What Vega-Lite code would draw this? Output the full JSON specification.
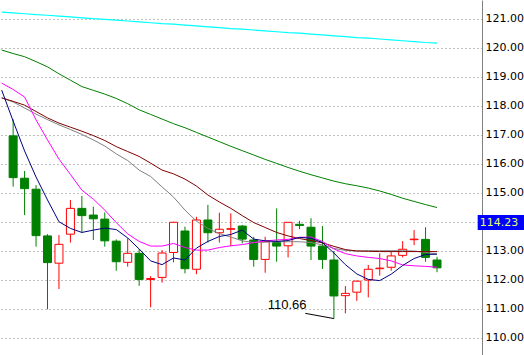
{
  "$schema": "https://vega.github.io/schema/vega-lite/v6.json",
  "width": 482,
  "height": 355,
  "autosize": {"type": "none"},
  "padding": {"left": 0, "top": 0, "right": 42, "bottom": 0},
  "background": "#ffffff",
  "view": {"stroke": null},
  "config": {
    "axisY": {"grid": true, "gridDash": [1, 3], "gridColor": "#808080", "gridOpacity": 1, "gridWidth": 1, "ticks": false, "domain": true, "domainColor": "#808080", "domainWidth": 1, "labelFont": "DejaVu Sans", "labelFontSize": 11, "labelColor": "#000000", "labelPadding": 3, "labelOverlap": false, "labelFlush": false, "labelBound": false}
  },
  "datasets": {
    "candles": [
      {"i": 1, "o": 116.96, "h": 117.53, "l": 115.21, "c": 115.52},
      {"i": 2, "o": 115.50, "h": 115.75, "l": 114.23, "c": 115.14},
      {"i": 3, "o": 115.12, "h": 115.26, "l": 113.14, "c": 113.52},
      {"i": 4, "o": 113.51, "h": 113.57, "l": 110.98, "c": 112.59},
      {"i": 5, "o": 112.57, "h": 113.54, "l": 111.68, "c": 113.22},
      {"i": 6, "o": 113.57, "h": 114.75, "l": 113.28, "c": 114.46},
      {"i": 7, "o": 114.46, "h": 114.89, "l": 113.62, "c": 114.21},
      {"i": 8, "o": 114.23, "h": 114.52, "l": 113.37, "c": 114.10},
      {"i": 9, "o": 114.09, "h": 114.32, "l": 113.14, "c": 113.34},
      {"i": 10, "o": 113.33, "h": 113.39, "l": 112.31, "c": 112.62},
      {"i": 11, "o": 112.60, "h": 113.43, "l": 112.45, "c": 112.91},
      {"i": 12, "o": 112.91, "h": 113.05, "l": 111.79, "c": 112.01},
      {"i": 13, "o": 112.01, "h": 112.12, "l": 111.05, "c": 112.04},
      {"i": 14, "o": 112.08, "h": 113.02, "l": 111.90, "c": 112.92},
      {"i": 15, "o": 112.94, "h": 114.00, "l": 112.60, "c": 113.98},
      {"i": 16, "o": 113.68, "h": 113.83, "l": 112.22, "c": 112.38},
      {"i": 17, "o": 112.36, "h": 114.17, "l": 112.19, "c": 114.06},
      {"i": 18, "o": 114.06, "h": 114.58, "l": 113.28, "c": 113.62},
      {"i": 19, "o": 113.62, "h": 114.31, "l": 113.28, "c": 113.74},
      {"i": 20, "o": 113.74, "h": 114.29, "l": 113.16, "c": 113.76},
      {"i": 21, "o": 113.85, "h": 113.89, "l": 113.25, "c": 113.40},
      {"i": 22, "o": 113.37, "h": 113.48, "l": 112.45, "c": 112.70},
      {"i": 23, "o": 112.70, "h": 113.48, "l": 112.24, "c": 113.31},
      {"i": 24, "o": 113.28, "h": 114.46, "l": 112.62, "c": 113.16},
      {"i": 25, "o": 113.17, "h": 113.98, "l": 112.77, "c": 113.98},
      {"i": 26, "o": 113.91, "h": 114.03, "l": 113.74, "c": 113.87},
      {"i": 27, "o": 113.81, "h": 114.12, "l": 112.68, "c": 113.16},
      {"i": 28, "o": 113.16, "h": 113.85, "l": 112.37, "c": 112.70},
      {"i": 29, "o": 112.68, "h": 112.99, "l": 110.66, "c": 111.44},
      {"i": 30, "o": 111.45, "h": 111.78, "l": 110.84, "c": 111.53},
      {"i": 31, "o": 111.57, "h": 111.97, "l": 111.27, "c": 111.95},
      {"i": 32, "o": 111.99, "h": 112.51, "l": 111.39, "c": 112.36},
      {"i": 33, "o": 112.38, "h": 112.91, "l": 112.14, "c": 112.40},
      {"i": 34, "o": 112.43, "h": 112.99, "l": 112.31, "c": 112.82},
      {"i": 35, "o": 112.84, "h": 113.33, "l": 112.77, "c": 113.05},
      {"i": 36, "o": 113.38, "h": 113.71, "l": 113.19, "c": 113.40},
      {"i": 37, "o": 113.39, "h": 113.81, "l": 112.62, "c": 112.77},
      {"i": 38, "o": 112.68, "h": 112.79, "l": 112.26, "c": 112.41}
    ],
    "ma": [
      {"i": 0, "cy": 121.23, "gr": 119.92, "mg": 118.78, "nv": 118.54, "mr": 118.27, "gy": 118.27},
      {"i": 1, "cy": 121.20, "gr": 119.80, "mg": 118.56, "nv": 117.47, "mr": 118.15, "gy": 118.13},
      {"i": 2, "cy": 121.17, "gr": 119.69, "mg": 118.30, "nv": 116.44, "mr": 118.02, "gy": 117.92},
      {"i": 3, "cy": 121.14, "gr": 119.52, "mg": 117.51, "nv": 115.54, "mr": 117.80, "gy": 117.71},
      {"i": 4, "cy": 121.12, "gr": 119.34, "mg": 116.82, "nv": 114.75, "mr": 117.58, "gy": 117.52},
      {"i": 5, "cy": 121.09, "gr": 119.10, "mg": 116.16, "nv": 114.00, "mr": 117.40, "gy": 117.34},
      {"i": 6, "cy": 121.06, "gr": 118.88, "mg": 115.63, "nv": 113.77, "mr": 117.26, "gy": 117.18},
      {"i": 7, "cy": 121.03, "gr": 118.66, "mg": 115.09, "nv": 113.63, "mr": 117.12, "gy": 117.01},
      {"i": 8, "cy": 121.00, "gr": 118.53, "mg": 114.78, "nv": 113.71, "mr": 116.97, "gy": 116.82},
      {"i": 9, "cy": 120.98, "gr": 118.40, "mg": 114.40, "nv": 113.78, "mr": 116.80, "gy": 116.61},
      {"i": 10, "cy": 120.95, "gr": 118.25, "mg": 113.97, "nv": 113.73, "mr": 116.59, "gy": 116.34},
      {"i": 11, "cy": 120.92, "gr": 118.07, "mg": 113.58, "nv": 113.44, "mr": 116.42, "gy": 116.11},
      {"i": 12, "cy": 120.89, "gr": 117.86, "mg": 113.32, "nv": 113.06, "mr": 116.25, "gy": 115.78},
      {"i": 13, "cy": 120.86, "gr": 117.70, "mg": 113.16, "nv": 112.65, "mr": 116.02, "gy": 115.56},
      {"i": 14, "cy": 120.83, "gr": 117.54, "mg": 113.16, "nv": 112.52, "mr": 115.78, "gy": 115.20},
      {"i": 15, "cy": 120.81, "gr": 117.38, "mg": 113.25, "nv": 112.75, "mr": 115.65, "gy": 114.85},
      {"i": 16, "cy": 120.78, "gr": 117.24, "mg": 113.11, "nv": 112.68, "mr": 115.47, "gy": 114.40},
      {"i": 17, "cy": 120.75, "gr": 117.08, "mg": 113.02, "nv": 113.09, "mr": 115.23, "gy": 114.02},
      {"i": 18, "cy": 120.72, "gr": 116.92, "mg": 113.02, "nv": 113.32, "mr": 114.92, "gy": 113.77},
      {"i": 19, "cy": 120.69, "gr": 116.76, "mg": 113.11, "nv": 113.49, "mr": 114.68, "gy": 113.59},
      {"i": 20, "cy": 120.66, "gr": 116.60, "mg": 113.17, "nv": 113.56, "mr": 114.46, "gy": 113.47},
      {"i": 21, "cy": 120.64, "gr": 116.45, "mg": 113.21, "nv": 113.71, "mr": 114.21, "gy": 113.34},
      {"i": 22, "cy": 120.61, "gr": 116.30, "mg": 113.28, "nv": 113.40, "mr": 113.97, "gy": 113.28},
      {"i": 23, "cy": 120.58, "gr": 116.15, "mg": 113.34, "nv": 113.34, "mr": 113.80, "gy": 113.30},
      {"i": 24, "cy": 120.55, "gr": 116.01, "mg": 113.37, "nv": 113.32, "mr": 113.63, "gy": 113.31},
      {"i": 25, "cy": 120.52, "gr": 115.87, "mg": 113.39, "nv": 113.35, "mr": 113.51, "gy": 113.31},
      {"i": 26, "cy": 120.50, "gr": 115.74, "mg": 113.46, "nv": 113.46, "mr": 113.42, "gy": 113.31},
      {"i": 27, "cy": 120.47, "gr": 115.62, "mg": 113.47, "nv": 113.43, "mr": 113.35, "gy": 113.28},
      {"i": 28, "cy": 120.44, "gr": 115.51, "mg": 113.32, "nv": 113.28, "mr": 113.27, "gy": 113.20},
      {"i": 29, "cy": 120.41, "gr": 115.40, "mg": 113.06, "nv": 112.92, "mr": 113.15, "gy": 113.08},
      {"i": 30, "cy": 120.38, "gr": 115.31, "mg": 112.90, "nv": 112.52, "mr": 113.04, "gy": 113.01},
      {"i": 31, "cy": 120.35, "gr": 115.24, "mg": 112.82, "nv": 112.20, "mr": 112.99, "gy": 112.99},
      {"i": 32, "cy": 120.33, "gr": 115.16, "mg": 112.77, "nv": 112.01, "mr": 112.98, "gy": 113.00},
      {"i": 33, "cy": 120.30, "gr": 115.06, "mg": 112.73, "nv": 111.97, "mr": 112.97, "gy": 113.00},
      {"i": 34, "cy": 120.27, "gr": 114.94, "mg": 112.65, "nv": 112.19, "mr": 112.97, "gy": 113.00},
      {"i": 35, "cy": 120.24, "gr": 114.81, "mg": 112.51, "nv": 112.49, "mr": 112.97, "gy": 113.00},
      {"i": 36, "cy": 120.21, "gr": 114.70, "mg": 112.48, "nv": 112.73, "mr": 112.97, "gy": 112.99},
      {"i": 37, "cy": 120.18, "gr": 114.59, "mg": 112.46, "nv": 112.87, "mr": 112.97, "gy": 112.94},
      {"i": 38, "cy": 120.16, "gr": 114.49, "mg": 112.43, "nv": 112.88, "mr": 112.97, "gy": 112.89}
    ],
    "note": [
      {"i": 23.22, "p": 110.99, "t": "110.66", "li": 26.5, "lp": 110.84, "li2": 29, "lp2": 110.66}
    ],
    "tag": [
      {"i": 41.55, "i2": 45.6, "p": 114.23, "p2": 113.71, "tx": 41.72, "tp": 113.97, "t": "114.23"}
    ]
  },
  "layer": [
    {
      "data": {"name": "candles"},
      "mark": {"type": "rule", "strokeWidth": 1, "clip": true},
      "encoding": {
        "x": {"field": "i", "type": "quantitative", "scale": {"domain": [0.29, 41.49], "nice": false, "zero": false}, "axis": null},
        "y": {"field": "l", "type": "quantitative", "scale": {"domain": [109.404, 121.645], "nice": false, "zero": false}, "title": null,
              "axis": {"orient": "right", "values": [110, 111, 112, 113, 114, 115, 116, 117, 118, 119, 120, 121], "format": ".2f", "labelExpr": "datum.value == 114 ? '' : datum.label", "title": null}},
        "y2": {"field": "h"},
        "color": {"condition": {"test": "datum.c > datum.o", "value": "#ff0000"}, "value": "#008000"}
      }
    },
    {
      "data": {"name": "candles"},
      "mark": {"type": "bar", "orient": "vertical", "size": 8, "strokeWidth": 1, "clip": true},
      "encoding": {
        "x": {"field": "i", "type": "quantitative", "scale": {"domain": [0.29, 41.49], "nice": false, "zero": false}, "axis": null},
        "y": {"field": "o", "type": "quantitative", "scale": {"domain": [109.404, 121.645], "nice": false, "zero": false}, "title": null,
              "axis": {"orient": "right", "values": [110, 111, 112, 113, 114, 115, 116, 117, 118, 119, 120, 121], "format": ".2f", "labelExpr": "datum.value == 114 ? '' : datum.label", "title": null}},
        "y2": {"field": "c"},
        "fill": {"condition": {"test": "datum.c > datum.o", "value": "#ffffff"}, "value": "#008000"},
        "stroke": {"condition": {"test": "datum.c > datum.o", "value": "#ff0000"}, "value": "#008000"}
      }
    },
    {
      "data": {"name": "ma"},
      "mark": {"type": "line", "color": "#00ffff", "strokeWidth": 1.2, "clip": true},
      "encoding": {
        "x": {"field": "i", "type": "quantitative", "scale": {"domain": [0.29, 41.49], "nice": false, "zero": false}, "axis": null},
        "y": {"field": "cy", "type": "quantitative", "scale": {"domain": [109.404, 121.645], "nice": false, "zero": false}, "title": null,
              "axis": {"orient": "right", "values": [110, 111, 112, 113, 114, 115, 116, 117, 118, 119, 120, 121], "format": ".2f", "labelExpr": "datum.value == 114 ? '' : datum.label", "title": null}}
      }
    },
    {
      "data": {"name": "ma"},
      "mark": {"type": "line", "color": "#008000", "strokeWidth": 1, "clip": true},
      "encoding": {
        "x": {"field": "i", "type": "quantitative", "scale": {"domain": [0.29, 41.49], "nice": false, "zero": false}, "axis": null},
        "y": {"field": "gr", "type": "quantitative", "scale": {"domain": [109.404, 121.645], "nice": false, "zero": false}, "title": null,
              "axis": {"orient": "right", "values": [110, 111, 112, 113, 114, 115, 116, 117, 118, 119, 120, 121], "format": ".2f", "labelExpr": "datum.value == 114 ? '' : datum.label", "title": null}}
      }
    },
    {
      "data": {"name": "ma"},
      "mark": {"type": "line", "color": "#808080", "strokeWidth": 1, "clip": true},
      "encoding": {
        "x": {"field": "i", "type": "quantitative", "scale": {"domain": [0.29, 41.49], "nice": false, "zero": false}, "axis": null},
        "y": {"field": "gy", "type": "quantitative", "scale": {"domain": [109.404, 121.645], "nice": false, "zero": false}, "title": null,
              "axis": {"orient": "right", "values": [110, 111, 112, 113, 114, 115, 116, 117, 118, 119, 120, 121], "format": ".2f", "labelExpr": "datum.value == 114 ? '' : datum.label", "title": null}}
      }
    },
    {
      "data": {"name": "ma"},
      "mark": {"type": "line", "color": "#800000", "strokeWidth": 1, "clip": true},
      "encoding": {
        "x": {"field": "i", "type": "quantitative", "scale": {"domain": [0.29, 41.49], "nice": false, "zero": false}, "axis": null},
        "y": {"field": "mr", "type": "quantitative", "scale": {"domain": [109.404, 121.645], "nice": false, "zero": false}, "title": null,
              "axis": {"orient": "right", "values": [110, 111, 112, 113, 114, 115, 116, 117, 118, 119, 120, 121], "format": ".2f", "labelExpr": "datum.value == 114 ? '' : datum.label", "title": null}}
      }
    },
    {
      "data": {"name": "ma"},
      "mark": {"type": "line", "color": "#ff00ff", "strokeWidth": 1, "clip": true},
      "encoding": {
        "x": {"field": "i", "type": "quantitative", "scale": {"domain": [0.29, 41.49], "nice": false, "zero": false}, "axis": null},
        "y": {"field": "mg", "type": "quantitative", "scale": {"domain": [109.404, 121.645], "nice": false, "zero": false}, "title": null,
              "axis": {"orient": "right", "values": [110, 111, 112, 113, 114, 115, 116, 117, 118, 119, 120, 121], "format": ".2f", "labelExpr": "datum.value == 114 ? '' : datum.label", "title": null}}
      }
    },
    {
      "data": {"name": "ma"},
      "mark": {"type": "line", "color": "#000080", "strokeWidth": 1, "clip": true},
      "encoding": {
        "x": {"field": "i", "type": "quantitative", "scale": {"domain": [0.29, 41.49], "nice": false, "zero": false}, "axis": null},
        "y": {"field": "nv", "type": "quantitative", "scale": {"domain": [109.404, 121.645], "nice": false, "zero": false}, "title": null,
              "axis": {"orient": "right", "values": [110, 111, 112, 113, 114, 115, 116, 117, 118, 119, 120, 121], "format": ".2f", "labelExpr": "datum.value == 114 ? '' : datum.label", "title": null}}
      }
    },
    {
      "data": {"name": "note"},
      "mark": {"type": "rule", "color": "#000000", "strokeWidth": 1},
      "encoding": {
        "x": {"field": "li", "type": "quantitative", "scale": {"domain": [0.29, 41.49], "nice": false, "zero": false}, "axis": null},
        "x2": {"field": "li2"},
        "y": {"field": "lp", "type": "quantitative", "scale": {"domain": [109.404, 121.645], "nice": false, "zero": false}, "title": null,
              "axis": {"orient": "right", "values": [110, 111, 112, 113, 114, 115, 116, 117, 118, 119, 120, 121], "format": ".2f", "labelExpr": "datum.value == 114 ? '' : datum.label", "title": null}},
        "y2": {"field": "lp2"}
      }
    },
    {
      "data": {"name": "note"},
      "mark": {"type": "text", "align": "left", "baseline": "alphabetic", "font": "Liberation Sans", "fontSize": 13, "color": "#000000"},
      "encoding": {
        "x": {"field": "i", "type": "quantitative", "scale": {"domain": [0.29, 41.49], "nice": false, "zero": false}, "axis": null},
        "y": {"field": "p", "type": "quantitative", "scale": {"domain": [109.404, 121.645], "nice": false, "zero": false}, "title": null,
              "axis": {"orient": "right", "values": [110, 111, 112, 113, 114, 115, 116, 117, 118, 119, 120, 121], "format": ".2f", "labelExpr": "datum.value == 114 ? '' : datum.label", "title": null}},
        "text": {"field": "t"}
      }
    },
    {
      "data": {"name": "tag"},
      "mark": {"type": "rect", "color": "#0000ff", "clip": false},
      "encoding": {
        "x": {"field": "i", "type": "quantitative", "scale": {"domain": [0.29, 41.49], "nice": false, "zero": false}, "axis": null},
        "x2": {"field": "i2"},
        "y": {"field": "p", "type": "quantitative", "scale": {"domain": [109.404, 121.645], "nice": false, "zero": false}, "title": null,
              "axis": {"orient": "right", "values": [110, 111, 112, 113, 114, 115, 116, 117, 118, 119, 120, 121], "format": ".2f", "labelExpr": "datum.value == 114 ? '' : datum.label", "title": null}},
        "y2": {"field": "p2"}
      }
    },
    {
      "data": {"name": "tag"},
      "mark": {"type": "text", "align": "left", "baseline": "middle", "font": "DejaVu Sans", "fontSize": 11, "color": "#e6ff66", "clip": false},
      "encoding": {
        "x": {"field": "tx", "type": "quantitative", "scale": {"domain": [0.29, 41.49], "nice": false, "zero": false}, "axis": null},
        "y": {"field": "tp", "type": "quantitative", "scale": {"domain": [109.404, 121.645], "nice": false, "zero": false}, "title": null,
              "axis": {"orient": "right", "values": [110, 111, 112, 113, 114, 115, 116, 117, 118, 119, 120, 121], "format": ".2f", "labelExpr": "datum.value == 114 ? '' : datum.label", "title": null}},
        "text": {"field": "t"}
      }
    }
  ]
}
